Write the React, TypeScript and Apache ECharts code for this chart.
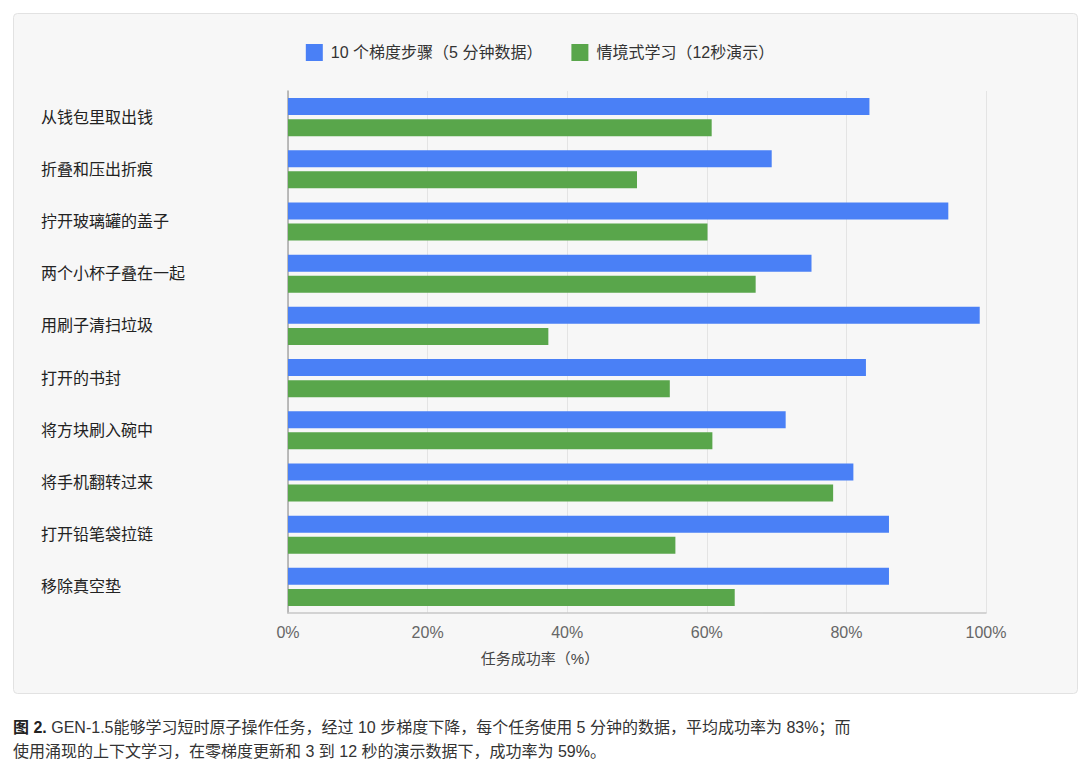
import React, { useEffect, useRef } from "react";
import * as echarts from "echarts";

const categories = [
  "从钱包里取出钱",
  "折叠和压出折痕",
  "拧开玻璃罐的盖子",
  "两个小杯子叠在一起",
  "用刷子清扫垃圾",
  "打开的书封",
  "将方块刷入碗中",
  "将手机翻转过来",
  "打开铅笔袋拉链",
  "移除真空垫",
];
const seriesNames = ["10 个梯度步骤（5 分钟数据）", "情境式学习（12秒演示）"];
const gradientSteps = [83.3, 69.3, 94.6, 75.0, 99.1, 82.8, 71.3, 81.0, 86.1, 86.1];
const inContext = [60.7, 50.0, 60.1, 67.0, 37.3, 54.7, 60.8, 78.1, 55.5, 64.0];
const xTicks = { min: 0, max: 100, interval: 20 };
const axisTitle = "任务成功率（%）";
const captionLine1Bold = "图 2.";
const captionLine1 = " GEN-1.5能够学习短时原子操作任务，经过 10 步梯度下降，每个任务使用 5 分钟的数据，平均成功率为 83%；而";
const captionLine2 = "使用涌现的上下文学习，在零梯度更新和 3 到 12 秒的演示数据下，成功率为 59%。";

const FONT = "'Helvetica Neue', 'Liberation Sans', Arial, 'Noto Sans CJK SC', sans-serif";
const BLUE = "#4a80f6";
const GREEN = "#59a64b";

export default function App() {
  const ref = useRef<HTMLDivElement>(null);
  useEffect(() => {
    if (!ref.current) return;
    const chart = echarts.init(ref.current, undefined, { renderer: "svg" });
    chart.setOption({
      animation: false,
      backgroundColor: "#ffffff",
      textStyle: { fontFamily: FONT },
      legend: {
        top: 39,
        left: "center",
        itemWidth: 17,
        itemHeight: 17,
        itemGap: 29,
        icon: "rect",
        textStyle: { fontSize: 16, color: "#333333", fontFamily: FONT, padding: [0, 0, 0, 3] },
        data: seriesNames,
      },
      grid: { left: 288, right: 94, top: 91, bottom: 155, containLabel: false },
      xAxis: {
        type: "value",
        min: xTicks.min,
        max: xTicks.max,
        interval: xTicks.interval,
        axisLine: { show: true, lineStyle: { color: "#c8c8c8", width: 1.5 } },
        axisTick: { show: false },
        splitLine: { show: true, lineStyle: { color: "#e4e4e4", width: 1 } },
        axisLabel: {
          formatter: "{value}%",
          fontSize: 16,
          color: "#666666",
          margin: 11,
          fontFamily: FONT,
        },
      },
      yAxis: {
        type: "category",
        inverse: true,
        data: categories,
        axisLine: { show: true, lineStyle: { color: "#a8a8a8", width: 1.5 } },
        axisTick: { show: false },
        axisLabel: {
          align: "left",
          margin: 247,
          fontSize: 16,
          color: "#222222",
          fontFamily: FONT,
        },
      },
      series: [
        {
          name: seriesNames[0],
          type: "bar",
          data: gradientSteps,
          barWidth: 17,
          barGap: "24%",
          itemStyle: { color: BLUE },
        },
        {
          name: seriesNames[1],
          type: "bar",
          data: inContext,
          barWidth: 17,
          barGap: "24%",
          itemStyle: { color: GREEN },
        },
      ],
      graphic: [
        {
          type: "rect",
          z: -10,
          shape: { x: 13.5, y: 13.5, width: 1064, height: 680, r: 4 },
          style: { fill: "#f7f7f7", stroke: "#e2e2e2", lineWidth: 1 },
          silent: true,
        },
        {
          type: "text",
          x: 540,
          y: 658,
          style: {
            text: axisTitle,
            fontSize: 15,
            fill: "#444444",
            fontFamily: FONT,
            textAlign: "center",
            textVerticalAlign: "middle",
          },
        },
        {
          type: "text",
          x: 13,
          y: 727,
          style: {
            text: "{b|" + captionLine1Bold + "}{n|" + captionLine1 + "}",
            fontFamily: FONT,
            textVerticalAlign: "middle",
            rich: {
              b: { fontSize: 16, fontWeight: "bold", fill: "#222222", fontFamily: FONT },
              n: { fontSize: 16, fill: "#333333", fontFamily: FONT },
            },
          },
        },
        {
          type: "text",
          x: 13,
          y: 751,
          style: {
            text: captionLine2,
            fontSize: 16,
            fill: "#333333",
            fontFamily: FONT,
            textVerticalAlign: "middle",
          },
        },
      ],
    });
    return () => chart.dispose();
  }, []);
  return (
    <div
      ref={ref}
      style={{ position: "absolute", left: 0, top: 0, width: 1080, height: 768 }}
    />
  );
}
